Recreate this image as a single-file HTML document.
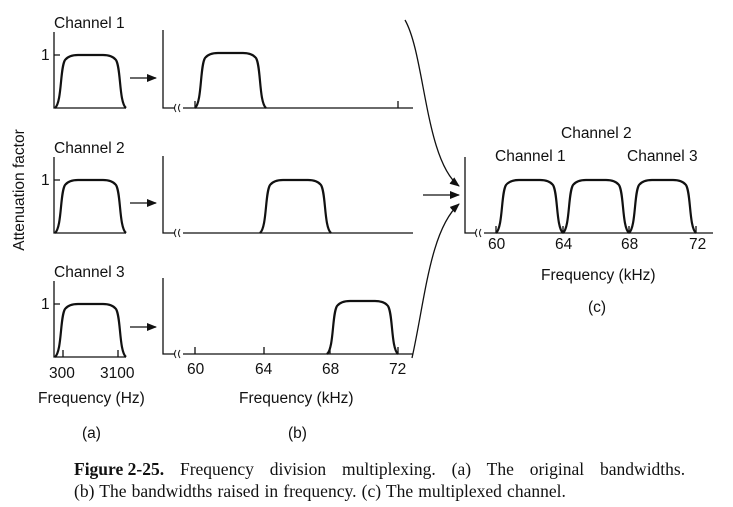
<!DOCTYPE html>
<html><head><meta charset="utf-8"><style>
html,body{margin:0;padding:0;background:#fff;width:733px;height:507px;overflow:hidden}
svg{display:block}
.t{font-family:"Liberation Sans",sans-serif;font-size:15.5px;fill:#111}
.cap{font-family:"Liberation Serif",serif;font-size:17.5px;fill:#111}
</style></head><body>
<svg width="733" height="507" viewBox="0 0 733 507" xmlns="http://www.w3.org/2000/svg">
<defs><marker id="ah" markerWidth="10" markerHeight="8" refX="9" refY="4" orient="auto" markerUnits="userSpaceOnUse"><path d="M0,0 L10,4 L0,8 z" fill="#111"/></marker></defs>
<g stroke="#111" fill="none" stroke-width="1.3">
<path d="M54 32 V108 H126 M54 55 H60"/>
<path d="M54 157 V233 H126 M54 180 H60"/>
<path d="M54 281 V357 H126 M54 304 H60 M63 357 V350 M118 357 V350"/>
<path d="M163 30 V108 H175 M183 108 H413 M195 108 V101 M398 108 V101"/>
<path d="M163 156 V233 H175 M183 233 H413"/>
<path d="M163 278 V354 H175 M183 354 H413 M195 354 V347 M264 354 V347 M330 354 V347 M398 354 V347"/>
<path d="M176 104 q-3 4 0 8 M180 104 q-3 4 0 8 M176 229 q-3 4 0 8 M180 229 q-3 4 0 8 M176 350 q-3 4 0 8 M180 350 q-3 4 0 8" stroke-width="1"/>
<path d="M465 157 V233 H476 M484 233 H713 M496 233 V226 M563 233 V226 M629 233 V226 M696 233 V226"/>
<path d="M477 229 q-3 4 0 8 M481 229 q-3 4 0 8" stroke-width="1"/>
</g>
<g stroke="#111" fill="none" stroke-width="2.2">
<path d="M55 108 c7 -6 5 -40 10 -48 q4 -5 13 -5 h25 q9 0 13 5 c5 8 3 42 10 48"/>
<path d="M55 233 c7 -6 5 -40 10 -48 q4 -5 13 -5 h25 q9 0 13 5 c5 8 3 42 10 48"/>
<path d="M55 357 c7 -6 5 -40 10 -48 q4 -5 13 -5 h25 q9 0 13 5 c5 8 3 42 10 48"/>
<path d="M195 108 c7 -6 5 -42 10 -50 q4 -5 13 -5 h25 q9 0 13 5 c5 8 3 44 10 50"/>
<path d="M260 233 c7 -6 5 -40 10 -48 q4 -5 13 -5 h25 q9 0 13 5 c5 8 3 42 10 48"/>
<path d="M327 354 c7 -6 5 -40 10 -48 q4 -5 13 -5 h25 q9 0 13 5 c5 8 3 42 10 48"/>
<path d="M496 233 c7 -6 5 -40 10 -48 q4 -5 13 -5 h21 q9 0 13 5 c5 8 3 42 10 48"/>
<path d="M563 233 c7 -6 5 -40 10 -48 q4 -5 13 -5 h20 q9 0 13 5 c5 8 3 42 10 48"/>
<path d="M629 233 c7 -6 5 -40 10 -48 q4 -5 13 -5 h21 q9 0 13 5 c5 8 3 42 10 48"/>
</g>
<g stroke="#111" fill="none" stroke-width="1.3" marker-end="url(#ah)">
<path d="M130 78 H156"/>
<path d="M130 203 H156"/>
<path d="M130 327 H156"/>
<path d="M423 195 H459"/>
<path d="M405 20 C425 55 425 160 459 186"/>
<path d="M412 358 C425 300 430 230 459 204"/>
</g>
<g class="t">
<text x="54" y="28">Channel 1</text>
<text x="54" y="153">Channel 2</text>
<text x="54" y="277">Channel 3</text>
<text x="41" y="60">1</text><text x="41" y="185">1</text><text x="41" y="309">1</text>
<text x="49" y="378">300</text><text x="100" y="378">3100</text>
<text x="38" y="403">Frequency (Hz)</text>
<text x="82" y="438">(a)</text>
<text x="187" y="374">60</text><text x="255" y="374">64</text><text x="322" y="374">68</text><text x="389" y="374">72</text>
<text x="239" y="403">Frequency (kHz)</text>
<text x="288" y="438">(b)</text>
<text x="561" y="138">Channel 2</text>
<text x="495" y="161">Channel 1</text>
<text x="627" y="161">Channel 3</text>
<text x="488" y="249">60</text><text x="555" y="249">64</text><text x="621" y="249">68</text><text x="689" y="249">72</text>
<text x="541" y="280">Frequency (kHz)</text>
<text x="588" y="312">(c)</text>
<text transform="translate(24,190) rotate(-90)" text-anchor="middle">Attenuation factor</text>
</g>
<text class="cap" x="74" y="475" word-spacing="11.5"><tspan font-weight="bold" word-spacing="0">Figure 2-25.</tspan> Frequency division multiplexing. (a) The original bandwidths.</text>
<text class="cap" x="74" y="497" word-spacing="0.8">(b) The bandwidths raised in frequency. (c) The multiplexed channel.</text>
</svg>
</body></html>
